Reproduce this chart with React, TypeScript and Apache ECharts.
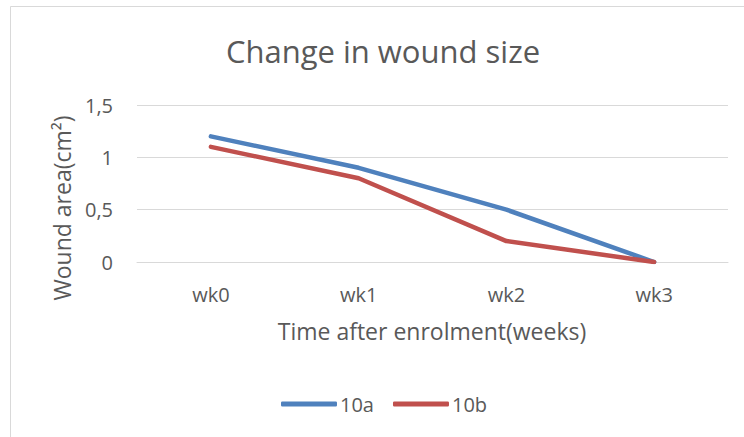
import React, { useEffect, useRef } from "react";
import * as echarts from "echarts";

const categories = ["wk0", "wk1", "wk2", "wk3"];
const series10a = [1.2, 0.9, 0.5, 0];
const series10b = [1.1, 0.8, 0.2, 0];
const seriesNames = ["10a", "10b"];
const titleText = "Change in wound size";
const yName = "Wound area(cm²)";
const xName = "Time after enrolment(weeks)";

const FONT = "'Open Sans', 'Noto Sans', sans-serif";
const TXT = "#595959";

export default function App() {
  const ref = useRef<HTMLDivElement>(null);
  useEffect(() => {
    if (!ref.current) return;
    const chart = echarts.init(ref.current, undefined, { renderer: "svg" });
    chart.setOption({
      animation: false,
      backgroundColor: "#ffffff",
      textStyle: { fontFamily: FONT },
      grid: { left: 137, right: 16, top: 105, bottom: 175 },
      xAxis: {
        type: "category",
        data: categories,
        boundaryGap: true,
        axisLine: { show: true, lineStyle: { color: "#d9d9d9", width: 1 } },
        axisTick: { show: false },
        axisLabel: { color: TXT, fontSize: 20, margin: 22, fontFamily: FONT },
      },
      yAxis: {
        type: "value",
        min: 0,
        max: 1.5,
        interval: 0.5,
        axisLine: { show: false },
        axisTick: { show: false },
        splitLine: { lineStyle: { color: "#d9d9d9", width: 1 } },
        axisLabel: {
          color: TXT,
          fontSize: 20,
          margin: 24,
          fontFamily: FONT,
          formatter: (v: number) => String(v).replace(".", ","),
        },
      },
      legend: {
        data: seriesNames,
        left: 276,
        top: 389,
        itemWidth: 56,
        itemHeight: 5,
        itemGap: 19,
        icon: "roundRect",
        textStyle: { color: TXT, fontSize: 20, fontFamily: FONT, padding: [0, 0, 0, -2] },
      },
      series: [
        {
          name: seriesNames[0],
          type: "line",
          data: series10a,
          symbol: "none",
          lineStyle: { color: "#4f81bd", width: 4.5, cap: "round" },
          itemStyle: { color: "#4f81bd" },
        },
        {
          name: seriesNames[1],
          type: "line",
          data: series10b,
          symbol: "none",
          lineStyle: { color: "#c0504d", width: 4.5, cap: "round" },
          itemStyle: { color: "#c0504d" },
        },
      ],
      graphic: [
        {
          type: "rect",
          shape: { x: 10.5, y: 6.5, width: 760, height: 460 },
          style: { fill: "none", stroke: "#d9d9d9", lineWidth: 1 },
          silent: true,
        },
        {
          type: "text",
          x: 383,
          y: 51,
          style: {
            text: titleText,
            fill: TXT,
            fontSize: 31,
            fontFamily: FONT,
            align: "center",
            verticalAlign: "middle",
          },
        },
        {
          type: "text",
          x: 62,
          y: 208,
          rotation: Math.PI / 2,
          style: {
            text: yName,
            fill: TXT,
            fontSize: 23,
            fontFamily: FONT,
            align: "center",
            verticalAlign: "middle",
          },
        },
        {
          type: "text",
          x: 432,
          y: 331,
          style: {
            text: xName,
            fill: TXT,
            fontSize: 23,
            fontFamily: FONT,
            align: "center",
            verticalAlign: "middle",
          },
        },
      ],
    });
    return () => chart.dispose();
  }, []);
  return (
    <div
      ref={ref}
      style={{ position: "fixed", left: 0, top: 0, width: 744, height: 437 }}
    />
  );
}
